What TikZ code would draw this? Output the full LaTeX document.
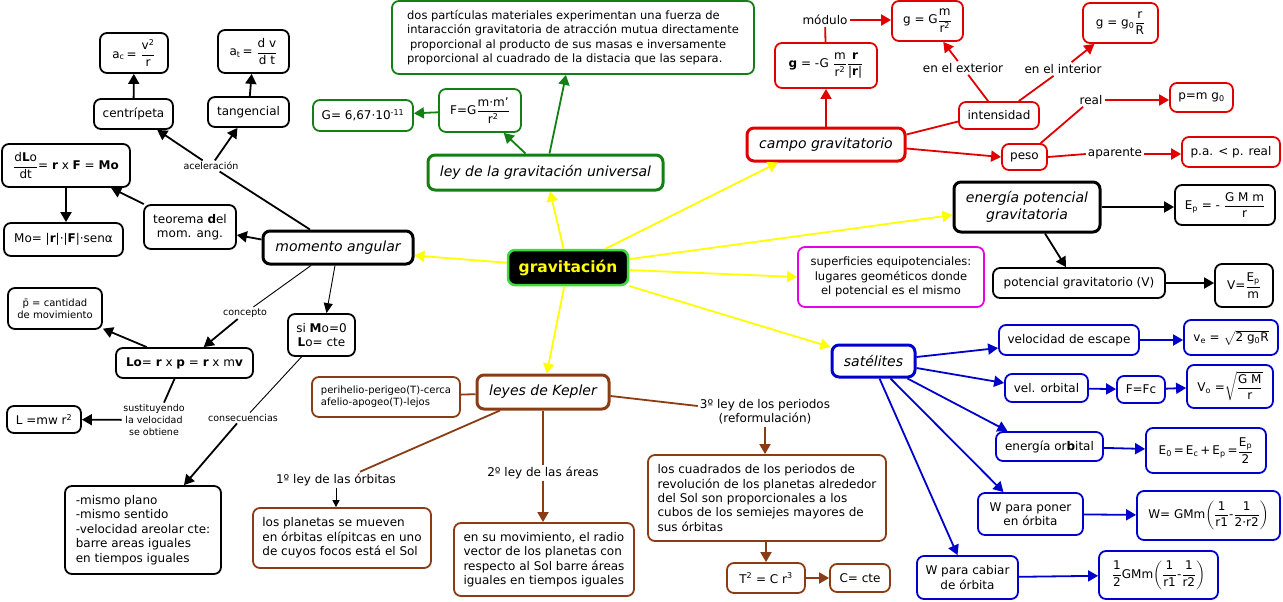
\documentclass[tikz,border=0pt]{standalone}
\usepackage{fontspec}
\setmainfont{DejaVu Sans}
\usepackage{amsmath}
\usetikzlibrary{arrows.meta}
\definecolor{cgreen}{RGB}{20,128,20}
\definecolor{cred}{RGB}{225,0,0}
\definecolor{cbrown}{RGB}{140,60,20}
\definecolor{cblue}{RGB}{0,0,205}
\definecolor{cmag}{RGB}{230,0,230}
\definecolor{cyel}{RGB}{255,255,0}
\definecolor{cgrav}{RGB}{60,220,60}
\newcommand\fr[2]{\dfrac{\text{#1}}{\text{#2}}}
\newcommand\myup[1]{\textsuperscript{#1}}
\newcommand\mydn[1]{\textsubscript{#1}}
\newcommand\fsN{\fontsize{12}{14.4}\selectfont}
\newcommand\fsS{\fontsize{9.5}{12}\selectfont}
\newcommand\fsM{\fontsize{14}{16.5}\selectfont}
\newcommand\fsP{\fontsize{10}{12}\selectfont}
\begin{document}
\begin{tikzpicture}[x=1pt,y=-1pt,
 box/.style={draw, rounded corners=7pt, line width=1.8pt, fill=white, align=center, inner sep=2pt, font=\fsN},
 mainbox/.style={box, line width=3pt, font=\fsM\itshape},
 lab/.style={inner sep=2pt, align=center, font=\fsN},
 slab/.style={inner sep=1.5pt, align=center, font=\fsS},
 ar/.style={-{Triangle[length=10pt,width=11pt]}, line width=1.8pt},
 ln/.style={line width=1.8pt},
 thin1/.style={line width=0.9pt},
]
\fill[white] (0,0) rectangle (1283,602);
\path[use as bounding box] (0,0) rectangle (1283,602);

% center
\node[draw=cgrav, fill=black, rounded corners=7pt, line width=2.5pt, minimum width=120pt, minimum height=35pt, text=cyel, font=\fontsize{15.5}{18}\selectfont\bfseries] (grav) at (568,267.5) {gravitación};

% green
\node[box, draw=cgreen, minimum width=362pt, minimum height=73pt, align=left, font=\fontsize{11.5}{14.6}\selectfont] (dos) at (573,37.5) {dos partículas materiales experimentan una fuerza de\\intaracción gravitatoria de atracción mutua directamente\\\hspace*{3pt}proporcional al producto de sus masas e inversamente\\proporcional al cuadrado de la distacia que las separa.};
\node[box, draw=cgreen, minimum width=82pt, minimum height=43pt] (F) at (480,110.5) {F=G$\fr{m·m'}{r\myup{2}}$};
\node[box, draw=cgreen, minimum width=100pt, minimum height=31pt] (G) at (363,115.5) {G= 6,67·10\myup{-11}};
\node[mainbox, draw=cgreen, minimum width=235pt, minimum height=35pt] (ley) at (545.5,172.5) {ley de la gravitación universal};

% red
\node[box, draw=cred, minimum width=102pt, minimum height=45pt] (gvec) at (826,65.5) {\textbf{g} = -G $\fr{m}{r\myup{2}}\fr{\textbf{r}}{|\textbf{r}|}$};
\node[box, draw=cred, minimum width=71pt, minimum height=40pt] (gGm) at (927.5,21) {g = G$\fr{m}{r\myup{2}}$};
\node[box, draw=cred, minimum width=75pt, minimum height=40pt] (gg0) at (1120.5,23) {g = g\mydn{0}$\fr{r}{R}$};
\node[lab] (mod) at (825,20) {módulo};
\node[mainbox, draw=cred, minimum width=158pt, minimum height=33pt] (campo) at (826,144.5) {campo gravitatorio};
\node[box, draw=cred, minimum width=80pt, minimum height=27pt] (int) at (999,115.5) {intensidad};
\node[lab] (ext) at (963,68) {en el exterior};
\node[lab] (inte) at (1063,69) {en el interior};
\node[box, draw=cred, minimum width=45pt, minimum height=26pt] (peso) at (1024.5,157) {peso};
\node[lab] (real) at (1091,100) {real};
\node[box, draw=cred, minimum width=63pt, minimum height=29pt] (pmg) at (1201.5,97.5) {p=m g\mydn{0}};
\node[lab] (apar) at (1115,154) {aparente};
\node[box, draw=cred, minimum width=98pt, minimum height=30pt] (pa) at (1231,152) {p.a. < p. real};

% black right
\node[mainbox, minimum width=146pt, minimum height=50pt] (ener) at (1027,207) {energía potencial\\gravitatoria};
\node[box, minimum width=100pt, minimum height=40pt] (Ep) at (1225,205) {E\mydn{p} = - $\fr{G M m}{r}$};
\node[box, minimum width=172pt, minimum height=30pt] (pot) at (1079,283) {potencial gravitatorio (V)};
\node[box, minimum width=58pt, minimum height=43pt] (V) at (1244,285.5) {V=$\fr{E\mydn{p}}{m}$};
\node[box, draw=cmag, minimum width=186pt, minimum height=60pt, font=\fontsize{11.5}{14.2}\selectfont] (sup) at (891,277) {superficies equipotenciales:\\lugares geométicos donde\\el potencial es el mismo};

% blue
\node[mainbox, draw=cblue, minimum width=83pt, minimum height=32pt] (sat) at (873.5,361) {satélites};
\node[box, draw=cblue, minimum width=140pt, minimum height=30pt] (vesc) at (1069,340) {velocidad de escape};
\node[box, draw=cblue, minimum width=94pt, minimum height=35pt] (ve) at (1231,337.5) {v\mydn{e} = $\sqrt{\text{2 g\mydn{0}R}}$};
\node[box, draw=cblue, minimum width=83pt, minimum height=28pt] (vorb) at (1046.5,388) {vel. orbital};
\node[box, draw=cblue, minimum width=48pt, minimum height=27pt] (FFc) at (1141,389.5) {F=Fc};
\node[box, draw=cblue, minimum width=86pt, minimum height=43pt] (Vo) at (1230,386.5) {V\mydn{o} =$\sqrt{\fr{G M}{r}}$};
\node[box, draw=cblue, minimum width=107pt, minimum height=29pt] (eorb) at (1049.5,446.5) {energía or\textbf{b}ital};
\node[box, draw=cblue, minimum width=120pt, minimum height=45pt] (E0) at (1206,450.5) {E\mydn{0}\,=\,E\mydn{c}\,+\,E\mydn{p}\,=$\fr{E\mydn{p}}{2}$};
\node[box, draw=cblue, minimum width=105pt, minimum height=42pt] (Wpon) at (1030.5,514) {W para poner\\en órbita};
\node[box, draw=cblue, minimum width=143pt, minimum height=49pt] (Wf) at (1208.5,515.5) {W= GMm$\left(\fr{1}{r1}\text{-}\fr{1}{2·r2}\right)$};
\node[box, draw=cblue, minimum width=101pt, minimum height=43pt] (Wcab) at (967.5,577.5) {W para cabiar\\de órbita};
\node[box, draw=cblue, minimum width=119pt, minimum height=48pt] (half) at (1158.5,575) {$\fr{1}{2}$GMm$\left(\fr{1}{r1}\text{-}\fr{1}{r2}\right)$};

% left top
\node[box, minimum width=68pt, minimum height=40pt] (ac) at (134,53) {a\mydn{c}\,= $\fr{v\myup{2}}{r}$};
\node[box, minimum width=71pt, minimum height=43pt] (atn) at (253.5,51.5) {a\mydn{t}\,= $\fr{d v}{d t}$};
\node[box, minimum width=79pt, minimum height=30pt] (cen) at (133.5,114) {centrípeta};
\node[box, minimum width=81pt, minimum height=30pt] (tan) at (248.5,112) {tangencial};
\node[slab] (acel) at (211,166) {aceleración};
\node[box, minimum width=128pt, minimum height=43pt] (dLo) at (66,165.5) {$\fr{d\textbf{L}o}{dt}$= \textbf{r} x \textbf{F} = \textbf{Mo}};
\node[box, minimum width=92pt, minimum height=44pt] (teo) at (190,227) {teorema \textbf{d}el\\mom. ang.};
\node[box, minimum width=119pt, minimum height=33pt] (Mo) at (63.5,239.5) {Mo= |\textbf{r}|·|\textbf{F}|·senα};
\node[mainbox, minimum width=150pt, minimum height=33pt] (mom) at (338,247.5) {momento angular};

% left bottom
\node[box, minimum width=94pt, minimum height=41pt, font=\fsP] (pc) at (55,308.5) {\={p} = cantidad\\de movimiento};
\node[slab] (conc) at (245,313) {concepto};
\node[box, minimum width=137pt, minimum height=30pt] (Lo) at (184.5,363) {\textbf{Lo}= \textbf{r} x \textbf{p} = \textbf{r} x m\textbf{v}};
\node[slab] (sust) at (154,420) {sustituyendo\\la velocidad\\se obtiene};
\node[box, minimum width=74pt, minimum height=27pt] (L) at (44,419.5) {L =mw r\myup{2}};
\node[box, minimum width=67pt, minimum height=42pt] (si) at (321.5,335) {si \textbf{M}o=0\\\textbf{L}o= cte};
\node[slab] (cons) at (243,418) {consecuencias};
\node[box, minimum width=156pt, minimum height=88pt, align=left] (mis) at (143,530) {-mismo plano\\-mismo sentido\\-velocidad areolar cte:\\barre areas iguales\\en tiempos iguales};

% Kepler
\node[mainbox, draw=cbrown, minimum width=132pt, minimum height=34pt] (kep) at (543,392) {leyes de Kepler};
\node[box, draw=cbrown, minimum width=148pt, minimum height=40pt, font=\fsP, align=left] (peri) at (386,397) {perihelio-perigeo(T)-cerca\\afelio-apogeo(T)-lejos};
\node[lab] (l1) at (336,480) {1º ley de las órbitas};
\node[box, draw=cbrown, minimum width=178pt, minimum height=60pt, align=left] (pla) at (342,538) {los planetas se mueven\\en órbitas elípitcas en uno\\de cuyos focos está el Sol};
\node[lab] (l2) at (543,473) {2º ley de las áreas};
\node[box, draw=cbrown, minimum width=180pt, minimum height=73pt, align=left] (mov) at (544,559.5) {en su movimiento, el radio\\vector de los planetas con\\respecto al Sol barre áreas\\iguales en tiempos iguales};
\node[lab] (l3) at (765,412) {3º ley de los periodos\\(reformulación)};
\node[box, draw=cbrown, minimum width=238pt, minimum height=86pt, align=left] (cua) at (767,498) {los cuadrados de los periodos de\\revolución de los planetas alrededor\\del Sol son proporcionales a los\\cubos de los semiejes mayores de\\sus órbitas};
\node[box, draw=cbrown, minimum width=78pt, minimum height=30pt] (T2) at (766,578) {T\myup{2} = C r\myup{3}};
\node[box, draw=cbrown, minimum width=60pt, minimum height=28pt] (C) at (860,578) {C= cte};

% yellow connectors
\draw[ar,cyel] (grav) -- (ley);
\draw[ar,cyel] (grav) -- ([xshift=-48pt]campo.south);
\draw[ar,cyel] (grav) -- ([yshift=-8pt]ener.west);
\draw[ar,cyel] (grav) -- (sup.west);
\draw[ar,cyel] (grav) -- ([yshift=14pt]sat.west);
\draw[ar,cyel] (grav) -- ([yshift=-8pt]mom.east);
\draw[ar,cyel] (grav) -- (kep);

% green
\draw[ar,cgreen] ([xshift=-20pt]ley.north) -- (F);
\draw[ar,cgreen] ([xshift=4pt]ley.north) -- ([xshift=-7pt]dos.south);
\draw[ar,cgreen] (F) -- (G);

% red
\draw[ar,cred] (campo) -- (gvec);
\draw[ln,cred] (gvec) -- (mod);
\draw[ar,cred] (mod.east) -- (mod.east -| gGm.west);
\draw[ln,cred] ([yshift=10pt]campo.east) -- ([yshift=-6pt]int.west);
\draw[ar,cred] ([yshift=-4pt]campo.east) -- (peso.west);
\draw[ln,cred] (int) -- (ext);
\draw[ar,cred] (ext) -- (gGm);
\draw[ln,cred] (int) -- (inte);
\draw[ar,cred] (inte) -- (gg0);
\draw[ln,cred] (peso) -- (real);
\draw[ar,cred] (real.east) -- (real.east -| pmg.west);
\draw[ln,cred] (peso.east) -- (apar.west);
\draw[ar,cred] (apar.east) -- (apar.east -| pa.west);

% black right
\draw[ar] (ener.east) -- (ener.east -| Ep.west);
\draw[ar] ([xshift=18pt]ener.south) -- ([xshift=-13pt]pot.north);
\draw[ar] (pot.east) -- (pot.east -| V.west);

% blue
\draw[ar,cblue] ([yshift=4pt]sat.east) -- ([yshift=-8pt]vesc.west);
\draw[ar,cblue] ([yshift=-7pt]sat.east) -- ([yshift=5pt]vorb.west);
\draw[ar,cblue] ([xshift=34pt]sat.south) -- ([xshift=-42pt]eorb.north);
\draw[ar,cblue] ([xshift=17pt]sat.south) -- ([xshift=-27pt]Wpon.north);
\draw[ar,cblue] ([xshift=6pt]sat.south) -- ([xshift=-10pt]Wcab.north);
\draw[ar,cblue] (vesc.east) -- (vesc.east -| ve.west);
\draw[ar,cblue] (vorb) -- (FFc);
\draw[ar,cblue] (FFc) -- (Vo);
\draw[ar,cblue] (eorb) -- (E0);
\draw[ar,cblue] (Wpon) -- (Wf);
\draw[ar,cblue] (Wcab) -- (half);

% left
\draw[ar] ([yshift=8pt]mom.west) -- ([yshift=-8pt]teo.east);
\draw[ar] (teo) -- (dLo);
\draw[ar] (dLo.south) -- (dLo.south |- Mo.north);
\draw[ln] ([xshift=-28pt]mom.north) -- (acel);
\draw[ar] (acel) -- (cen);
\draw[ar] (acel) -- (tan);
\draw[ar] (cen) -- (ac);
\draw[ar] (tan) -- (atn);
\draw[thin1] ([xshift=-27pt]mom.south) -- (conc);
\draw[ar] (conc) -- (Lo);
\draw[ar] (Lo) -- (pc);
\draw[ln] ([xshift=-10pt]Lo.south) -- ([xshift=10pt]sust.north);
\draw[ar] (sust) -- (L);
\draw[thin1,-{Triangle[length=10pt,width=9pt]}] ([xshift=-3pt]mom.south) -- ([xshift=5pt]si.north);
\draw[thin1] ([xshift=-20pt]si.south) -- ([xshift=7pt]cons.north);
\draw[ar] ([xshift=-6pt]cons.south) -- ([xshift=41pt]mis.north);

% Kepler
\draw[ln,cbrown] (kep) -- (peri);
\draw[ln,cbrown] ([xshift=-43pt]kep.south) -- ([xshift=24pt]l1.north);
\draw[-{Triangle[length=7pt,width=7pt]}, line width=1pt] (l1.south) -- (l1.south |- pla.north);
\draw[ln,cbrown] (kep.south) -- (l2.north);
\draw[ar,cbrown] (l2.south) -- (l2.south |- mov.north);
\draw[ln,cbrown] ([yshift=-4pt]kep.east) -- ([yshift=6pt]l3.west);
\draw[ar,cbrown] (l3.south) -- (l3.south |- cua.north);
\draw[ar,cbrown] (T2.north |- cua.south) -- (T2.north);
\draw[ar,cbrown] (T2) -- (C);
\end{tikzpicture}
\end{document}
